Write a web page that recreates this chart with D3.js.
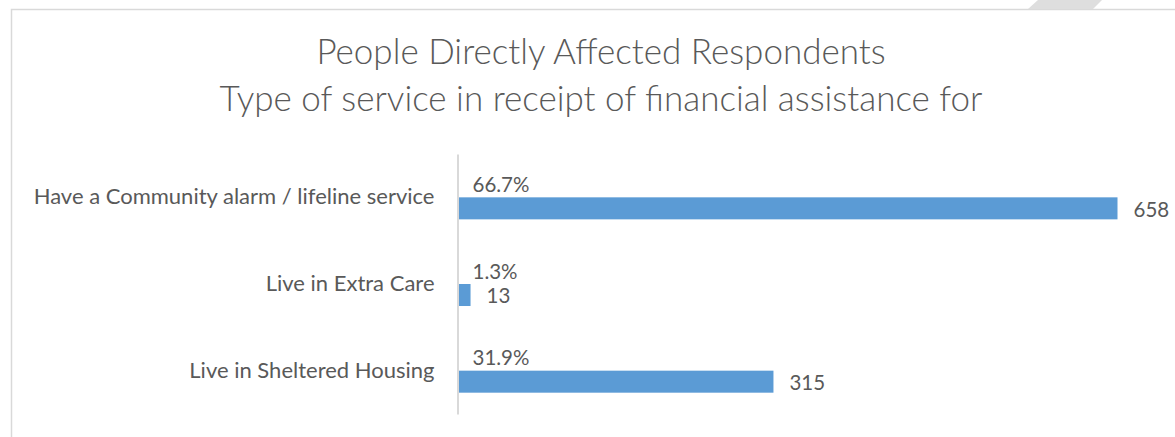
<!DOCTYPE html>
<html><head><meta charset="utf-8">
<script src="https://cdn.jsdelivr.net/npm/d3@7"></script>
<style>
html,body{margin:0;padding:0;background:#fff;}
svg{display:block;}
text{font-family:Lato,"Open Sans",sans-serif;fill:#595959;}
</style></head>
<body><svg id="c" width="1175" height="437"></svg>
<script>
const titleLines = ["People Directly Affected Respondents", "Type of service in receipt of financial assistance for"];
const categories = ["Have a Community alarm / lifeline service", "Live in Extra Care", "Live in Sheltered Housing"];
const counts = [658, 13, 315];
const percentLabels = ["66.7%", "1.3%", "31.9%"];

const svg = d3.select("#c");

// chart border
svg.append("rect").attr("x", 11.5).attr("y", 9.5).attr("width", 1300).attr("height", 600)
  .attr("fill", "none").attr("stroke", "#d9d9d9").attr("stroke-width", 1.5);
// watermark corner shape
svg.append("path").attr("d", "M1038,0 L1102,0 L1093,9 L1028,9 Z").attr("fill", "#dedede");

// title
svg.append("text").attr("text-anchor", "middle")
  .style("font-size", "35px").style("font-weight", 300)
  .selectAll("tspan").data(titleLines).join("tspan")
  .attr("x", 601).attr("y", (d, i) => 64 + i * 47).text(d => d);

const x0 = 457.5;
const x = d3.scaleLinear().domain([0, 658]).range([x0, x0 + 660]);
const y = d3.scaleBand().domain(categories).range([154, 414]).paddingInner(0.492).paddingOuter(0.246);
const ys = d3.scaleBand().domain(["pct", "count"]).range([0, y.bandwidth()]);

const g = svg.append("g");
g.selectAll("rect.bar").data(categories).join("rect").attr("class", "bar")
  .attr("x", x(0)).attr("y", d => y(d) + ys("count"))
  .attr("width", (d, i) => x(counts[i]) - x(0)).attr("height", ys.bandwidth())
  .attr("fill", "#5b9bd5");

// axis
const axis = d3.axisLeft(y).tickSize(0).tickPadding(23);
const ax = svg.append("g").attr("transform", `translate(${x0},0)`).call(axis);
ax.select(".domain").attr("stroke", "#d9d9d9").attr("stroke-width", 2);
ax.selectAll("text").style("font-size", "22px").attr("fill", "#595959").style("font-family", "Lato");

// percent labels
g.selectAll("text.pct").data(categories).join("text").attr("class", "pct")
  .attr("x", x(0) + 15).attr("y", d => y(d) + ys("pct") + ys.bandwidth() / 2 - 1.5)
  .attr("dy", "0.35em").style("font-size", "20.5px").text((d, i) => percentLabels[i]);
// count labels
g.selectAll("text.cnt").data(categories).join("text").attr("class", "cnt")
  .attr("x", (d, i) => x(counts[i]) + 16).attr("y", d => y(d) + ys("count") + ys.bandwidth() / 2 + 1)
  .attr("dy", "0.35em").style("font-size", "20.5px").text((d, i) => counts[i]);
</script></body></html>
